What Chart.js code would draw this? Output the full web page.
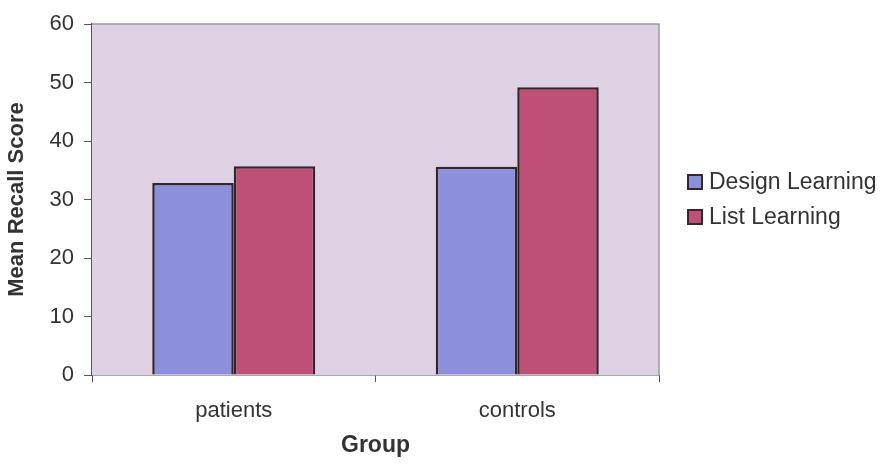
<!DOCTYPE html>
<html>
<head>
<meta charset="utf-8">
<script src="https://cdn.jsdelivr.net/npm/chart.js@4/dist/chart.umd.min.js"></script>
<style>
  html, body { margin: 0; padding: 0; background: #ffffff; }
  #wrap { width: 887px; height: 465px; }
</style>
</head>
<body>
<div id="wrap"><canvas id="c" width="887" height="465"></canvas></div>
<script>
// Mean recall scores by group
const groups = ['patients', 'controls'];
const designLearning = [32.8, 35.6];
const listLearning = [35.7, 49.2];
const yTicks = [0, 10, 20, 30, 40, 50, 60];

const EDGE = '#33262d';
const TEXT = '#333333';

// Lavender plot area with a thin grey frame on top and right
const plotBackground = {
  id: 'plotBackground',
  beforeDatasetsDraw(chart) {
    const { ctx, chartArea: a } = chart;
    ctx.save();
    ctx.fillStyle = '#ded1e3';
    ctx.fillRect(a.left, a.top, a.right - a.left, a.bottom - a.top);
    ctx.strokeStyle = '#9a9a9a';
    ctx.lineWidth = 1.5;
    ctx.beginPath();
    ctx.moveTo(a.left, a.top);
    ctx.lineTo(a.right, a.top);
    ctx.lineTo(a.right, a.bottom);
    ctx.stroke();
    ctx.restore();
  }
};

// Legend to the right of the plot, centred on the plot area
const sideLegend = {
  id: 'sideLegend',
  afterDraw(chart) {
    const { ctx, chartArea: a } = chart;
    const sets = chart.data.datasets;
    const rowGap = 35;
    const box = 14;
    const x = a.right + 29;
    const midY = (a.top + a.bottom) / 2;
    const firstY = midY - rowGap * (sets.length - 1) / 2;
    ctx.save();
    ctx.font = '23px "Liberation Sans", Arial, sans-serif';
    ctx.textBaseline = 'middle';
    ctx.textAlign = 'left';
    sets.forEach((ds, i) => {
      const y = firstY + i * rowGap;
      ctx.fillStyle = ds.backgroundColor;
      ctx.fillRect(x, y - box / 2, box, box);
      ctx.strokeStyle = EDGE;
      ctx.lineWidth = 2;
      ctx.strokeRect(x, y - box / 2, box, box);
      ctx.fillStyle = TEXT;
      ctx.fillText(ds.label, x + box + 7, y + 1);
    });
    ctx.restore();
  }
};

new Chart(document.getElementById('c'), {
  type: 'bar',
  data: {
    labels: groups,
    datasets: [
      {
        label: 'Design Learning',
        data: designLearning,
        backgroundColor: '#8b8fdc',
        borderColor: EDGE,
        borderWidth: 2.5
      },
      {
        label: 'List Learning',
        data: listLearning,
        backgroundColor: '#be5078',
        borderColor: EDGE,
        borderWidth: 2.5
      }
    ]
  },
  options: {
    responsive: false,
    animation: false,
    devicePixelRatio: 1,
    layout: { padding: { top: 24, right: 228, bottom: 0, left: 0 } },
    datasets: { bar: { barPercentage: 1.0, categoryPercentage: 0.575 } },
    plugins: {
      tooltip: { enabled: false },
      legend: { display: false }
    },
    scales: {
      x: {
        grid: {
          offset: true,
          drawOnChartArea: false,
          drawTicks: true,
          tickLength: 7,
          color: '#555555',
          lineWidth: 1
        },
        border: { color: '#555555', width: 1.5 },
        ticks: {
          color: TEXT,
          font: { family: 'Liberation Sans', size: 22 },
          padding: 16
        },
        title: {
          display: true,
          text: 'Group',
          color: TEXT,
          font: { family: 'Liberation Sans', size: 23, weight: 'bold' },
          padding: { top: 8, bottom: 6 }
        },
        afterFit(scale) { scale.height = 90; }
      },
      y: {
        min: 0,
        max: 60,
        afterBuildTicks(scale) { scale.ticks = yTicks.map(v => ({ value: v })); },
        grid: {
          drawOnChartArea: false,
          drawTicks: true,
          tickLength: 8,
          color: '#555555'
        },
        border: { color: '#555555', width: 1.5 },
        ticks: {
          color: TEXT,
          font: { family: 'Liberation Sans', size: 22 },
          padding: 10
        },
        title: {
          display: true,
          text: 'Mean Recall Score',
          color: TEXT,
          font: { family: 'Liberation Sans', size: 22, weight: 'bold' },
          padding: { top: 4, bottom: 0 }
        },
        afterFit(scale) { scale.width = 92; }
      }
    }
  },
  plugins: [plotBackground, sideLegend]
});
</script>
</body>
</html>
